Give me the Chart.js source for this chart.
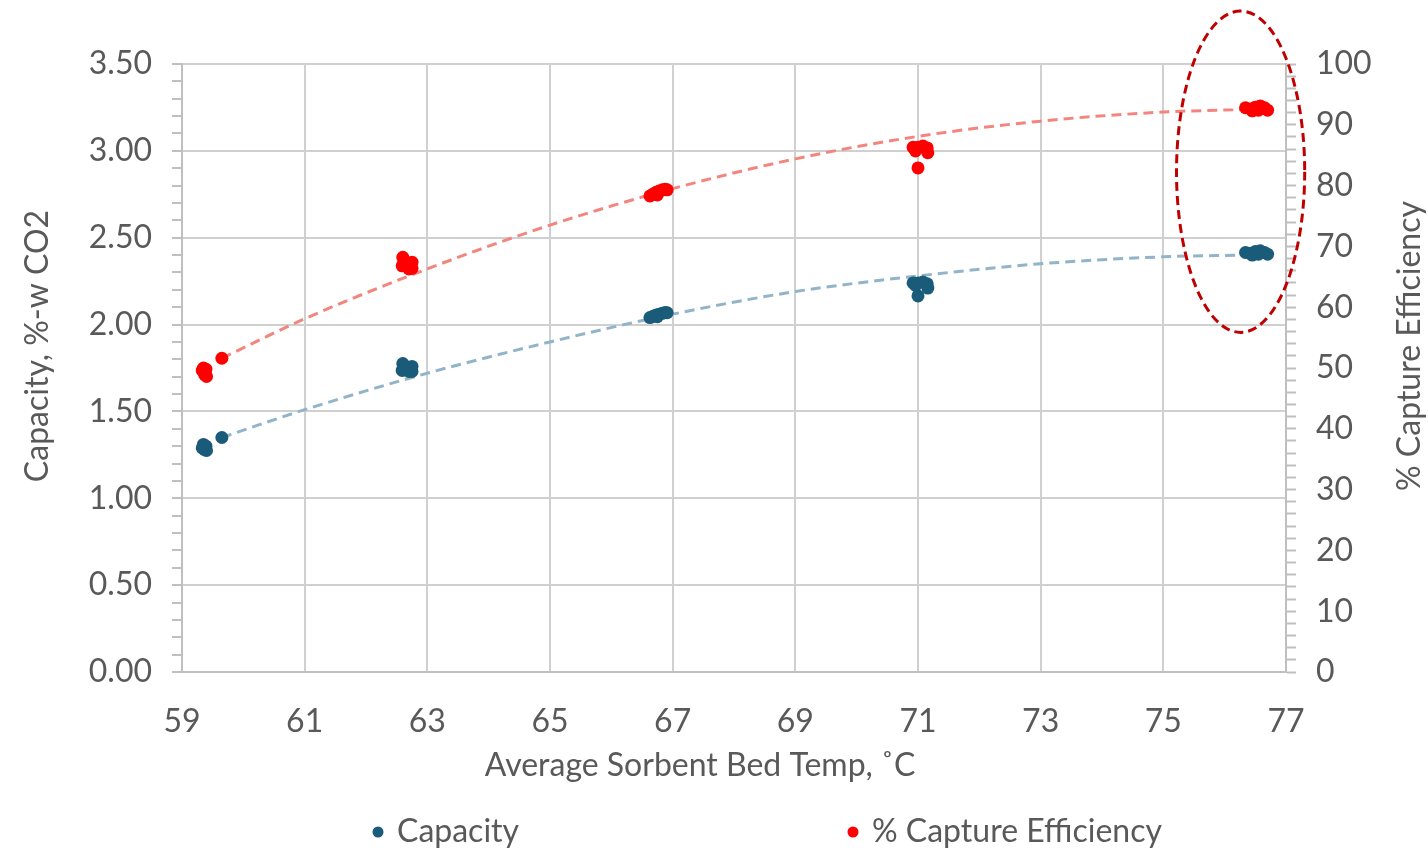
<!DOCTYPE html>
<html>
<head>
<meta charset="utf-8">
<script src="https://cdn.jsdelivr.net/npm/chart.js@4"></script>
<style>
  html, body { margin: 0; padding: 0; background: #fff; }
  #wrap { width: 1428px; height: 850px; position: relative; }
</style>
</head>
<body>
<div id="wrap"><canvas id="chart"></canvas></div>
<script>
// runs: average bed temperature, sorbent capacity and capture efficiency
const runTemps = [
  59.33, 59.35, 59.37, 59.39, 59.40, 59.36, 59.38, 59.65,
  62.60, 62.59, 62.67, 62.75, 62.75, 62.70, 62.64,
  66.63, 66.68, 66.73, 66.78, 66.83, 66.88, 66.91, 66.75,
  70.92, 71.00, 71.08, 71.15, 71.16, 71.00, 70.96,
  76.34, 76.42, 76.50, 76.58, 76.65, 76.70, 76.45, 76.55
];
const capacity = [
  1.29, 1.31, 1.28, 1.30, 1.275, 1.29, 1.285, 1.35,
  1.776, 1.736, 1.747, 1.759, 1.730, 1.730, 1.759,
  2.040, 2.048, 2.055, 2.060, 2.065, 2.070, 2.068, 2.045,
  2.24, 2.24, 2.245, 2.235, 2.21, 2.165, 2.225,
  2.415, 2.41, 2.42, 2.425, 2.415, 2.405, 2.40, 2.405
];
const captureEff = [
  49.6, 50.0, 48.9, 49.8, 48.6, 49.3, 49.1, 51.6,
  68.2, 66.8, 67.1, 67.4, 66.4, 66.3, 67.4,
  78.3, 78.6, 78.9, 79.1, 79.3, 79.4, 79.3, 78.45,
  86.3, 86.3, 86.5, 86.2, 85.4, 82.9, 85.7,
  92.8, 92.6, 92.9, 93.1, 92.8, 92.4, 92.3, 92.4
];

// dashed trend lines
const trendTemps = [59.65, 61, 63, 65, 67, 69, 71, 73, 75, 76.3];
const trendCapacity = [1.35, 1.51, 1.72, 1.90, 2.06, 2.19, 2.28, 2.35, 2.39, 2.40];
const trendEff = [51.6, 58.1, 66.3, 73.5, 79.5, 84.4, 88.1, 90.6, 92.1, 92.5];

// highlight ellipse (centre and radii in axis units)
const highlight = { x: 76.26, y: 2.88, rx: 1.045, ry: 0.925 };

const xTitle = 'Average Sorbent Bed Temp, ˚C';
const yTitle = 'Capacity, %-w CO2';
const y2Title = '% Capture Efficiency';

const TEXT = '#595959';
const GRID = '#d0d0d0';
const AXIS = '#bfbfbf';
const FONT = 'Lato, "Open Sans", sans-serif';
const SIZE = 32;

const toPoints = (xs, ys) => xs.map((x, i) => ({ x: x, y: ys[i] }));
const isMajor = (v, step) => Math.abs(v / step - Math.round(v / step)) < 1e-6;

const ellipsePlugin = {
  id: 'ellipse',
  afterDraw(chart) {
    const { ctx, scales } = chart;
    const cx = scales.x.getPixelForValue(highlight.x);
    const cy = scales.y.getPixelForValue(highlight.y);
    const rx = Math.abs(scales.x.getPixelForValue(highlight.x + highlight.rx) - cx);
    const ry = Math.abs(scales.y.getPixelForValue(highlight.y + highlight.ry) - cy);
    ctx.save();
    ctx.strokeStyle = '#c00000';
    ctx.lineWidth = 3;
    ctx.setLineDash([9, 5]);
    ctx.beginPath();
    ctx.ellipse(cx, cy, rx, ry, 0, 0, Math.PI * 2);
    ctx.stroke();
    ctx.restore();
  }
};

// axis titles placed like the Excel original (both vertical ones read bottom-up)
const titlesPlugin = {
  id: 'axisTitles',
  afterDraw(chart) {
    const { ctx } = chart;
    ctx.save();
    ctx.font = SIZE + 'px ' + FONT;
    ctx.fillStyle = TEXT;
    ctx.textAlign = 'center';
    ctx.textBaseline = 'middle';
    ctx.fillText(xTitle, 700, 766);
    [[38, yTitle], [1410, y2Title]].forEach(([x, t]) => {
      ctx.save();
      ctx.translate(x, 346);
      ctx.rotate(-Math.PI / 2);
      ctx.fillText(t, 0, 0);
      ctx.restore();
    });
    ctx.restore();
  }
};

// Excel-like legend spread along the bottom
const legendPlugin = {
  id: 'bottomLegend',
  afterDraw(chart) {
    const { ctx } = chart;
    const slots = [378, 853];
    const y = 832;
    const items = chart.data.datasets.filter(d => d.inLegend);
    ctx.save();
    ctx.font = SIZE + 'px ' + FONT;
    ctx.textBaseline = 'middle';
    ctx.textAlign = 'left';
    items.forEach((d, i) => {
      ctx.fillStyle = d.backgroundColor;
      ctx.beginPath();
      ctx.arc(slots[i], y, 5.5, 0, Math.PI * 2);
      ctx.fill();
      ctx.fillStyle = TEXT;
      ctx.fillText(d.label, slots[i] + 19, y);
    });
    ctx.restore();
  }
};

new Chart(document.getElementById('chart'), {
  type: 'scatter',
  data: {
    datasets: [
      {
        label: 'Capacity',
        inLegend: true,
        data: toPoints(runTemps, capacity),
        yAxisID: 'y',
        backgroundColor: '#1a5b7a',
        borderWidth: 0,
        pointRadius: 6.5,
        order: 0
      },
      {
        label: '% Capture Efficiency',
        inLegend: true,
        data: toPoints(runTemps, captureEff),
        yAxisID: 'y2',
        backgroundColor: '#ff0000',
        borderWidth: 0,
        pointRadius: 6.5,
        order: 0
      },
      {
        type: 'line',
        label: 'Capacity trend',
        data: toPoints(trendTemps, trendCapacity),
        yAxisID: 'y',
        borderColor: '#92b4c8',
        borderWidth: 3,
        borderDash: [10, 6],
        pointRadius: 0,
        fill: false,
        cubicInterpolationMode: 'monotone',
        order: 1
      },
      {
        type: 'line',
        label: 'Efficiency trend',
        data: toPoints(trendTemps, trendEff),
        yAxisID: 'y2',
        borderColor: '#f3857f',
        borderWidth: 3,
        borderDash: [10, 6],
        pointRadius: 0,
        fill: false,
        cubicInterpolationMode: 'monotone',
        order: 1
      }
    ]
  },
  options: {
    responsive: true,
    maintainAspectRatio: false,
    animation: false,
    layout: { padding: { top: 64, left: 0, right: 0, bottom: 0 } },
    plugins: {
      legend: { display: false },
      tooltip: { enabled: false }
    },
    scales: {
      x: {
        type: 'linear',
        min: 59,
        max: 77,
        afterFit: s => { s.height = 178; },
        ticks: {
          stepSize: 2,
          padding: 30,
          color: TEXT,
          font: { family: FONT, size: SIZE }
        },
        grid: { color: GRID, lineWidth: 2, drawTicks: false },
        border: { color: AXIS, width: 2 }
      },
      y: {
        position: 'left',
        min: 0,
        max: 3.5,
        afterFit: s => { s.width = 182; },
        ticks: {
          stepSize: 0.1,
          autoSkip: false,
          padding: 20,
          color: TEXT,
          font: { family: FONT, size: SIZE },
          callback: v => isMajor(v, 0.5) ? v.toFixed(2) : ''
        },
        grid: {
          color: c => (c.tick && isMajor(c.tick.value, 0.5)) ? GRID : 'rgba(0,0,0,0)',
          lineWidth: 2,
          tickColor: AXIS,
          tickWidth: 2,
          tickLength: 10
        },
        border: { color: AXIS, width: 2 }
      },
      y2: {
        position: 'right',
        min: 0,
        max: 100,
        afterFit: s => { s.width = 142; },
        ticks: {
          stepSize: 2,
          autoSkip: false,
          padding: 20,
          color: TEXT,
          font: { family: FONT, size: SIZE },
          callback: v => isMajor(v, 10) ? String(v) : ''
        },
        grid: {
          drawOnChartArea: false,
          tickColor: AXIS,
          tickWidth: 2,
          tickLength: 10
        },
        border: { color: AXIS, width: 2 }
      }
    }
  },
  plugins: [ellipsePlugin, titlesPlugin, legendPlugin]
});
</script>
</body>
</html>
